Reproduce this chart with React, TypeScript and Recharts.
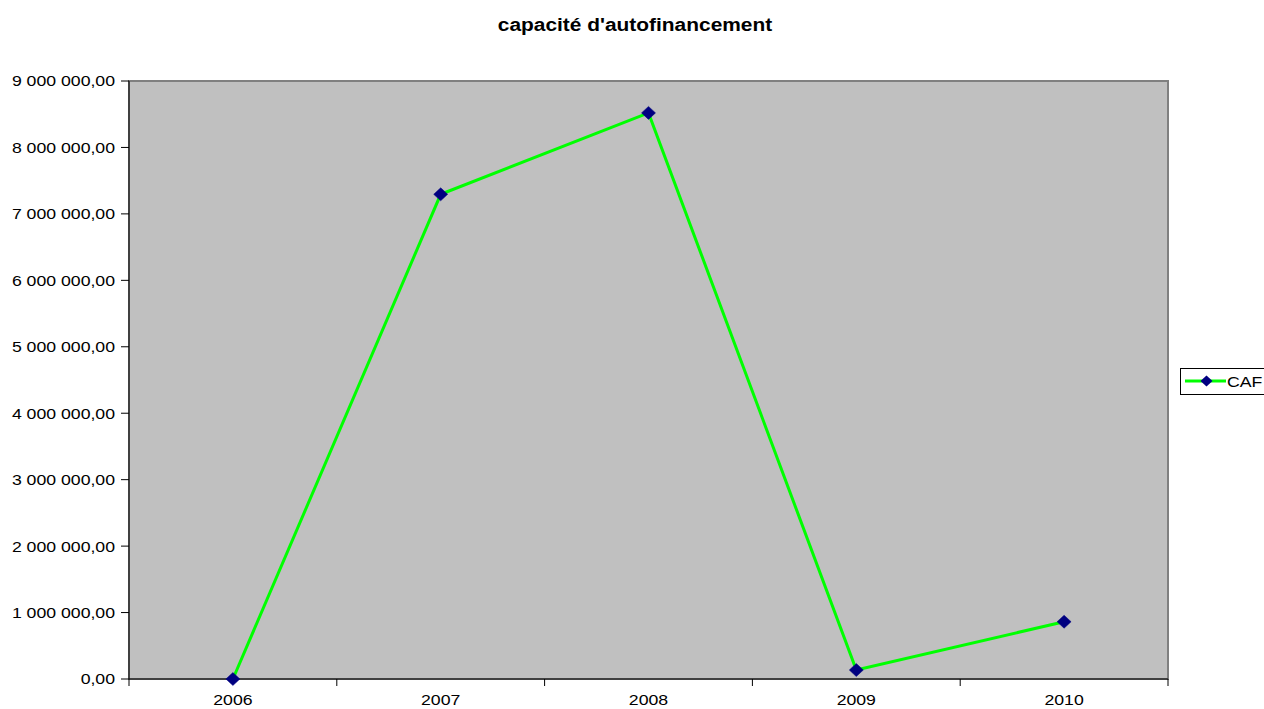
import React from "react";
import { LineChart, Line, XAxis, YAxis, CartesianGrid, ReferenceArea } from "recharts";

const years = ["2006", "2007", "2008", "2009", "2010"];
const cafValues = [0, 7295000, 8520000, 135000, 862000];
const yTicks = [0, 1000000, 2000000, 3000000, 4000000, 5000000, 6000000, 7000000, 8000000, 9000000];
const xTicks = [-0.5, 0, 0.5, 1, 1.5, 2, 2.5, 3, 3.5, 4, 4.5];

const data = years.map((y, i) => ({ idx: i, year: y, CAF: cafValues[i] }));

const fmt = (v: number) => {
  const s = Math.round(v).toString().replace(/\B(?=(\d{3})+(?!\d))/g, " ");
  return s + ",00";
};

const FONT = "'Liberation Sans', Arial, sans-serif";
const SX = 1.14;

const XTick = (props: any) => {
  const { x, payload } = props;
  const v = payload.value;
  if (Math.abs(v - Math.round(v)) > 0.01) {
    return <line x1={x} x2={x} y1={679} y2={686} stroke="#000" strokeWidth={1} />;
  }
  const label = years[Math.round(v)];
  return (
    <text
      x={x}
      y={705.5}
      textAnchor="middle"
      fontSize={15.5}
      fontFamily={FONT}
      fill="#000"
      transform={`translate(${x},0) scale(${SX},1) translate(${-x},0)`}
    >
      {label}
    </text>
  );
};

const YTick = (props: any) => {
  const { x, y, payload } = props;
  return (
    <text
      x={x}
      y={y + 5.5}
      textAnchor="end"
      fontSize={15.5}
      fontFamily={FONT}
      fill="#000"
      transform={`translate(${x},0) scale(${SX},1) translate(${-x},0)`}
    >
      {fmt(payload.value)}
    </text>
  );
};

const Diamond = (props: any) => {
  const { cx, cy } = props;
  if (cx == null || cy == null) return null;
  const rx = 7;
  const ry = 6.5;
  return (
    <polygon
      points={`${cx},${cy - ry} ${cx + rx},${cy} ${cx},${cy + ry} ${cx - rx},${cy}`}
      fill="#000080"
      stroke="#000080"
      strokeWidth={0.5}
    />
  );
};

export default function App() {
  return (
    <div style={{ position: "absolute", left: 0, top: 0, width: 1264, height: 709, background: "#fff", overflow: "hidden" }}>
      <LineChart width={1264} height={709} data={data} margin={{ top: 81, right: 96, bottom: 0, left: 0 }}>
        <ReferenceArea x1={-0.5} x2={4.5} y1={0} y2={9000000} fill="#C0C0C0" fillOpacity={1} stroke="#808080" strokeWidth={2} />
        <CartesianGrid vertical={false} stroke="#000" strokeOpacity={1} />
        <XAxis
          dataKey="idx"
          type="number"
          domain={[-0.5, 4.5]}
          ticks={xTicks}
          interval={0}
          tick={<XTick />}
          tickLine={false}
          axisLine={{ stroke: "#000" }}
          height={30}
        />
        <YAxis
          type="number"
          domain={[0, 9000000]}
          ticks={yTicks}
          interval={0}
          width={129}
          tickSize={8}
          tickMargin={6}
          tickLine={{ stroke: "#000" }}
          axisLine={{ stroke: "#000" }}
          tick={<YTick />}
        />
        <Line
          dataKey="CAF"
          stroke="#00FF00"
          strokeWidth={3}
          dot={<Diamond />}
          activeDot={false}
          isAnimationActive={false}
        />
      </LineChart>
      <svg width={1264} height={709} style={{ position: "absolute", left: 0, top: 0, pointerEvents: "none" }}>
        <text
          x={635}
          y={31}
          textAnchor="middle"
          fontSize={19}
          fontWeight="bold"
          fontFamily={FONT}
          fill="#000"
          transform={`translate(635,0) scale(1.1,1) translate(-635,0)`}
        >
          capacité d'autofinancement
        </text>
        <rect x={1180.5} y={368.5} width={100} height={26} fill="#fff" stroke="#000" strokeWidth={1} />
        <line x1={1185} x2={1226} y1={381} y2={381} stroke="#00FF00" strokeWidth={3} />
        <polygon points="1206.5,375.5 1212.5,381 1206.5,386.5 1200.5,381" fill="#000080" />
        <text
          x={1227}
          y={387}
          fontSize={15.5}
          fontFamily={FONT}
          fill="#000"
          transform={`translate(1227,0) scale(${SX},1) translate(-1227,0)`}
        >
          CAF
        </text>
      </svg>
    </div>
  );
}
